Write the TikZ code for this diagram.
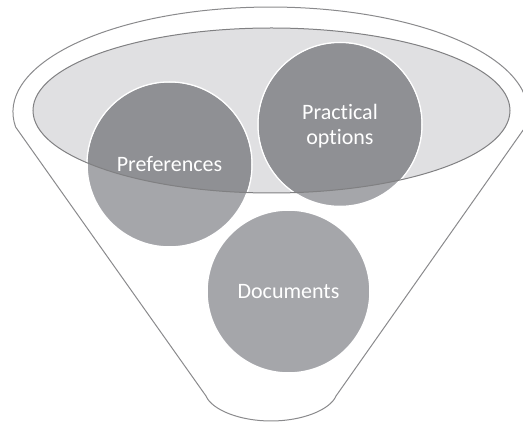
\documentclass[tikz,border=0pt]{standalone}
\usepackage{fontspec}
\setmainfont[Ligatures=NoCommon]{Carlito}
\definecolor{funnelline}{HTML}{8A8A8C}
\definecolor{ellfill}{HTML}{E0E0E2}
\definecolor{ellline}{HTML}{808082}
\definecolor{ballout}{HTML}{A5A6AA}
\definecolor{ballin}{HTML}{8F9094}
\tikzset{
  ball/.style={circle, fill=ballout, draw=white, line width=1.5pt, inner sep=0pt, minimum size=#1},
  balltext/.style={text=white, font=\fontsize{22}{25}\selectfont, align=center},
  funnel/.style={draw=funnelline, line width=1pt, line join=round},
}
\begin{document}
\begin{tikzpicture}[x=1pt,y=1pt]
\useasboundingbox (0,0) rectangle (523,-422);
% funnel outline
\draw[funnel] (15.6,-127) arc[start angle=188.2, end angle=-8.2, x radius=257.5, y radius=105]
  -- (336,-396) .. controls (330,-410) and (302,-421) .. (271,-421)
  .. controls (240,-421) and (212,-410) .. (206,-396) -- cycle;
% ellipse fill
\fill[ellfill] (271.5,-110.5) ellipse[x radius=238.5, y radius=82.5];
% circles
\node[ball=165pt] (pref) at (169.5,-164.5) {};
\node[ball=164pt] (prac) at (340,-124.5) {};
\node[ball=163pt] (docs) at (288.5,-291.5) {};
% darker parts inside ellipse
\begin{scope}
  \clip (271.5,-110.5) ellipse[x radius=238.5, y radius=82.5];
  \fill[ballin] (pref.center) circle[radius=81.7pt];
  \fill[ballin] (prac.center) circle[radius=81.2pt];
\end{scope}
% ellipse outline
\draw[ellline, line width=1pt] (271.5,-110.5) ellipse[x radius=238.5, y radius=82.5];
% texts
\node[balltext] (preft) at (pref.center) {Preferences};
\node[balltext] (pract) at (340,-126) {Practical\\options};
\node[balltext] (docst) at (docs.center) {Documents};
\end{tikzpicture}
\end{document}
